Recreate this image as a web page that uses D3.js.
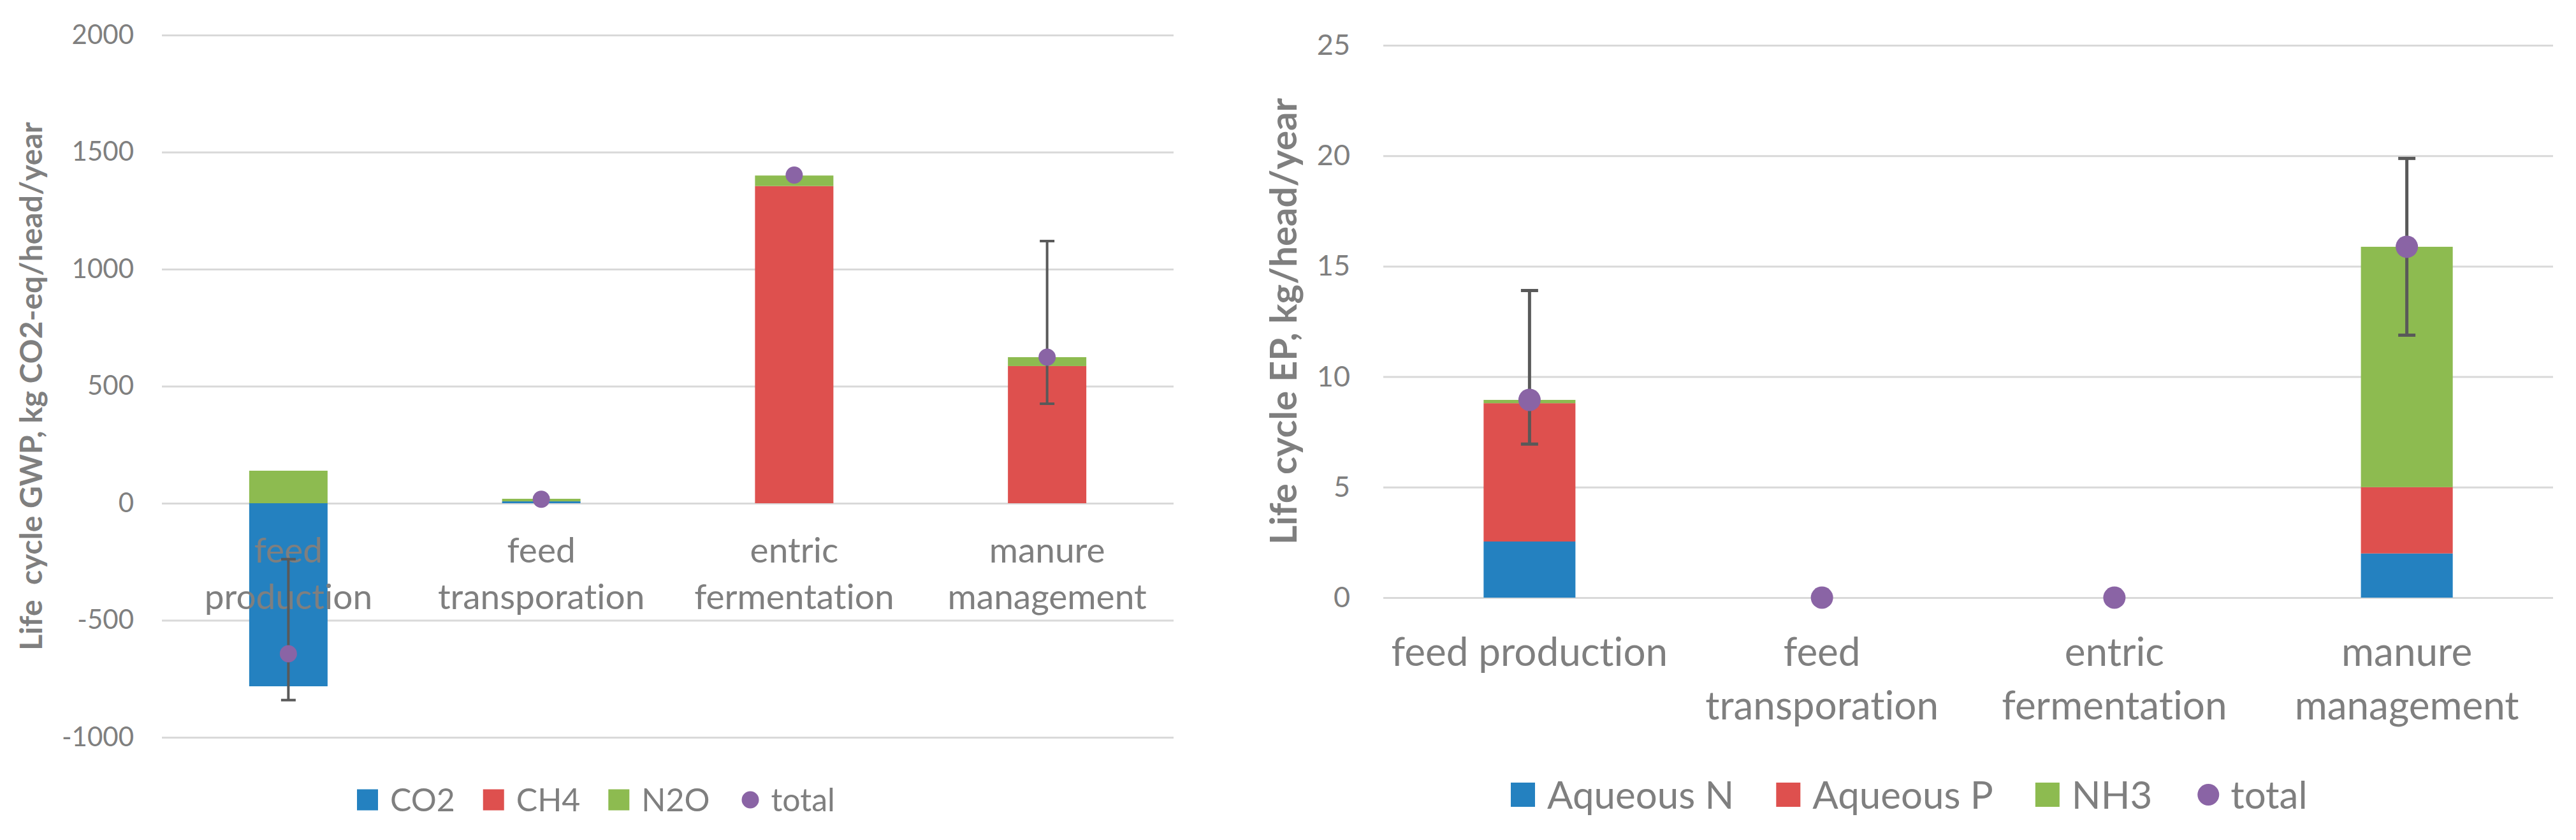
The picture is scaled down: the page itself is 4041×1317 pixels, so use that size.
<!DOCTYPE html>
<html>
<head>
<meta charset="utf-8">
<script src="https://cdn.jsdelivr.net/npm/d3@7"></script>
<style>
	body { margin: 0; background: #fff; }
	text { font-family: Lato, "Open Sans", sans-serif; font-variant-ligatures: none; }
</style>
</head>
<body>
<script>
// categories (already split into the lines Excel wrapped them to)
var gwpCategories = ["feed production", "feed transporation", "entric fermentation", "manure management"];
var gwpLabelLines = [["feed", "production"], ["feed", "transporation"], ["entric", "fermentation"], ["manure", "management"]];
var epLabelLines = [["feed production"], ["feed", "transporation"], ["entric", "fermentation"], ["manure", "management"]];

// GWP, kg CO2-eq/head/year
var gwpCO2 = [-782, 8, 0, 0];
var gwpCH4 = [0, 0, 1355, 586];
var gwpN2O = [139, 11, 45, 38];
var gwpTotal = [-643, 17, 1402, 624];
var gwpErrMinus = [198, 0, 4, 199];
var gwpErrPlus = [404, 0, 4, 496];
var gwpTicks = [-1000, -500, 0, 500, 1000, 1500, 2000];

// EP, kg/head/year
var epAqueousN = [2.54, 0, 0, 2.0];
var epAqueousP = [6.26, 0, 0, 3.0];
var epNH3 = [0.15, 0, 0, 10.88];
var epTotal = [8.95, 0, 0, 15.88];
var epErrMinus = [2.0, 0, 0, 4.0];
var epErrPlus = [4.95, 0, 0, 4.0];
var epTicks = [0, 5, 10, 15, 20, 25];

var colors = ["#2481c0", "#de504e", "#8dbb50"];
var dotColor = "#8a64a5";
var textColor = "#7f7f7f";
var gridColor = "#d9d9d9";
var errColor = "#595959";

var svg = d3
	.select("body")
	.append("svg")
	.attr("width", 4041)
	.attr("height", 1317);

function drawPanel(p) {
	var g = svg.append("g");

	var x = d3
		.scaleBand()
		.domain(p.categories)
		.range([p.left, p.right])
		.paddingInner(p.padding)
		.paddingOuter(p.padding / 2);

	var y = d3.scaleLinear().domain(p.domain).range([p.bottom, p.top]);

	// gridlines + tick labels
	var axis = g
		.append("g")
		.attr("transform", `translate(${p.left},0)`)
		.call(
			d3
				.axisLeft(y)
				.tickValues(p.ticks)
				.tickSize(-(p.right - p.left))
				.tickPadding(p.tickPad)
				.tickFormat((d) => String(d))
		);
	axis.select(".domain").remove();
	axis.selectAll("line").attr("stroke", gridColor).attr("stroke-width", 3);
	axis
		.selectAll("text")
		.attr("fill", textColor)
		.attr("font-size", p.tickFont)
		.attr("font-family", "Lato");

	// stacked bars
	var rows = p.categories.map((c, i) => {
		var row = { cat: c };
		p.keys.forEach((k, j) => (row[k] = p.series[j][i]));
		return row;
	});
	var stacked = d3.stack().keys(p.keys).offset(d3.stackOffsetDiverging)(rows);

	g.selectAll(".layer")
		.data(stacked)
		.enter()
		.append("g")
		.attr("fill", (d, i) => colors[i])
		.selectAll("rect")
		.data((d) => d)
		.enter()
		.append("rect")
		.attr("x", (d) => x(d.data.cat))
		.attr("width", x.bandwidth())
		.attr("y", (d) => y(Math.max(d[0], d[1])))
		.attr("height", (d) => Math.abs(y(d[0]) - y(d[1])));

	// category labels
	var labels = g
		.selectAll(".cat")
		.data(p.categories)
		.enter()
		.append("text")
		.attr("x", (d) => x(d) + x.bandwidth() / 2)
		.attr("y", y(0) + p.labelOffset)
		.attr("text-anchor", "middle")
		.attr("fill", textColor)
		.attr("font-size", p.catFont);
	labels
		.selectAll("tspan")
		.data((d, i) => p.labelLines[i])
		.enter()
		.append("tspan")
		.attr("x", function () {
			return d3.select(this.parentNode).attr("x");
		})
		.attr("dy", (d, i) => (i === 0 ? 0 : p.lineHeight))
		.text((d) => d);

	// error bars on the total
	var err = g
		.selectAll(".err")
		.data(p.categories)
		.enter()
		.append("g")
		.attr("stroke", errColor)
		.attr("stroke-width", p.errWidth);
	err
		.filter((d, i) => p.errMinus[i] + p.errPlus[i] > 0)
		.each(function (d) {
			var idx = p.categories.indexOf(d);
			var cx = x(d) + x.bandwidth() / 2;
			var lo = y(p.total[idx] - p.errMinus[idx]);
			var hi = y(p.total[idx] + p.errPlus[idx]);
			var e = d3.select(this);
			e.append("line").attr("x1", cx).attr("x2", cx).attr("y1", lo).attr("y2", hi);
			e.append("line").attr("x1", cx - p.capW / 2).attr("x2", cx + p.capW / 2).attr("y1", lo).attr("y2", lo);
			e.append("line").attr("x1", cx - p.capW / 2).attr("x2", cx + p.capW / 2).attr("y1", hi).attr("y2", hi);
		});

	// total markers
	g.selectAll(".dot")
		.data(p.categories)
		.enter()
		.append("circle")
		.attr("cx", (d) => x(d) + x.bandwidth() / 2)
		.attr("cy", (d, i) => y(p.total[i]))
		.attr("r", p.dotR)
		.attr("fill", dotColor);

	// y title
	g.append("text")
		.attr("transform", `translate(${p.titleX},${(p.top + p.bottom) / 2}) rotate(-90)`)
		.attr("text-anchor", "middle")
		.attr("font-weight", "bold")
		.attr("fill", textColor)
		.attr("font-size", p.titleFont)
		.attr("xml:space", "preserve")
		.text(p.title);

	// legend
	var lx = p.legendX;
	var legendNames = p.keys.concat(["total"]);
	legendNames.forEach((name, i) => {
		if (name === "total") {
			g.append("circle")
				.attr("cx", lx + p.legendSw / 2 + 3)
				.attr("cy", p.legendY)
				.attr("r", p.legendDotR)
				.attr("fill", dotColor);
		} else {
			g.append("rect")
				.attr("x", lx)
				.attr("y", p.legendY - p.legendSw / 2)
				.attr("width", p.legendSw)
				.attr("height", p.legendSw)
				.attr("fill", colors[i]);
		}
		var t = g
			.append("text")
			.attr("x", lx + p.legendTextOff)
			.attr("y", p.legendY + 0.36 * p.legendFont)
			.attr("fill", textColor)
			.attr("font-size", p.legendFont)
			.text(name);
		lx = lx + p.legendTextOff + t.node().getComputedTextLength() + p.legendGap;
	});
}

drawPanel({
	categories: gwpCategories,
	labelLines: gwpLabelLines,
	keys: ["CO2", "CH4", "N2O"],
	series: [gwpCO2, gwpCH4, gwpN2O],
	total: gwpTotal,
	errMinus: gwpErrMinus,
	errPlus: gwpErrPlus,
	ticks: gwpTicks,
	domain: [-1000, 2000],
	left: 254,
	right: 1841,
	top: 55,
	bottom: 1156,
	padding: 0.69,
	tickPad: 44,
	tickFont: 42,
	catFont: 55,
	labelOffset: 93,
	lineHeight: 73,
	errWidth: 4,
	capW: 23,
	dotR: 13.5,
	title: "Life  cycle GWP, kg CO2-eq/head/year",
	titleX: 66,
	titleFont: 48,
	legendX: 560,
	legendY: 1254,
	legendSw: 33,
	legendTextOff: 52,
	legendGap: 44,
	legendDotR: 13.5,
	legendFont: 50,
});

drawPanel({
	categories: gwpCategories,
	labelLines: epLabelLines,
	keys: ["Aqueous N", "Aqueous P", "NH3"],
	series: [epAqueousN, epAqueousP, epNH3],
	total: epTotal,
	errMinus: epErrMinus,
	errPlus: epErrPlus,
	ticks: epTicks,
	domain: [0, 25],
	left: 2170,
	right: 4005,
	top: 71,
	bottom: 937,
	padding: 0.686,
	tickPad: 52,
	tickFont: 45,
	catFont: 62,
	labelOffset: 107,
	lineHeight: 84,
	errWidth: 5,
	capW: 27,
	dotR: 17.5,
	title: "Life cycle EP, kg/head/year",
	titleX: 2034,
	titleFont: 58,
	legendX: 2370,
	legendY: 1246,
	legendSw: 38,
	legendTextOff: 57,
	legendGap: 66,
	legendDotR: 17,
	legendFont: 60,
});
</script>
</body>
</html>
